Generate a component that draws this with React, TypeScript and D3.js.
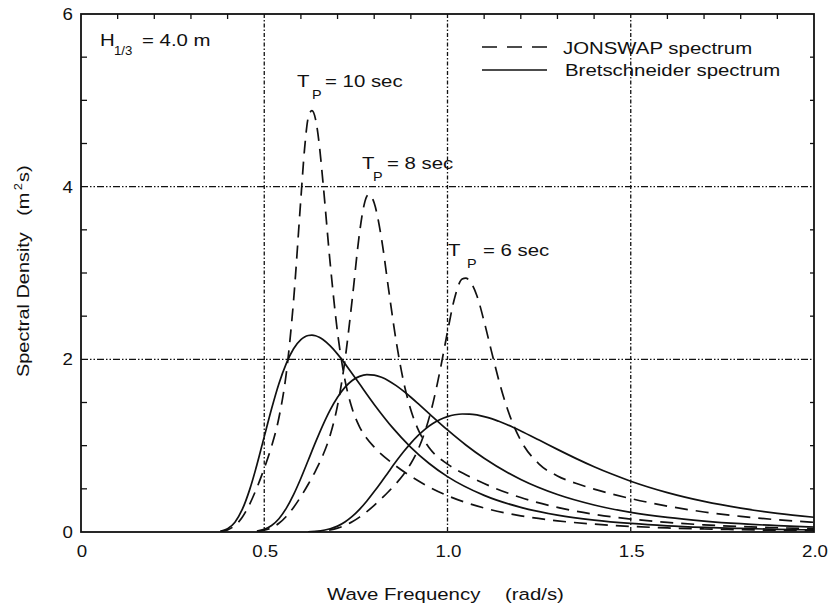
import React from "react";
import * as d3 from "d3";

// ---- data (H1/3 = 4.0 m) ----
const freqBret10 = [0.38, 0.40, 0.42, 0.44, 0.46, 0.48, 0.50, 0.52, 0.54, 0.56, 0.58, 0.60, 0.61, 0.62, 0.63, 0.64, 0.65, 0.66, 0.68, 0.70, 0.75, 0.80, 0.85, 0.90, 0.95, 1.0, 1.1, 1.2, 1.3, 1.4, 1.5, 1.6, 1.7, 1.8, 1.9, 2.0];
const bret10 = [0.009, 0.038, 0.114, 0.261, 0.488, 0.779, 1.105, 1.428, 1.718, 1.951, 2.123, 2.229, 2.260, 2.276, 2.280, 2.273, 2.255, 2.229, 2.155, 2.060, 1.774, 1.478, 1.209, 0.981, 0.793, 0.641, 0.424, 0.285, 0.196, 0.138, 0.099, 0.072, 0.054, 0.041, 0.031, 0.024];

const freqJon10 = [0.38, 0.40, 0.42, 0.44, 0.46, 0.48, 0.50, 0.52, 0.54, 0.56, 0.58, 0.60, 0.61, 0.62, 0.63, 0.64, 0.65, 0.66, 0.68, 0.70, 0.72, 0.74, 0.76, 0.78, 0.80, 0.85, 0.90, 0.95, 1.0, 1.1, 1.2, 1.3, 1.4, 1.5, 1.6, 1.7, 1.8, 1.9, 2.0];
const jon10 = [0.006, 0.025, 0.075, 0.171, 0.321, 0.514, 0.738, 0.994, 1.323, 1.833, 2.681, 3.866, 4.437, 4.800, 4.880, 4.780, 4.492, 4.062, 3.108, 2.310, 1.766, 1.428, 1.219, 1.083, 0.983, 0.795, 0.645, 0.521, 0.421, 0.278, 0.187, 0.129, 0.091, 0.065, 0.047, 0.035, 0.027, 0.020, 0.016];

const freqBret8 = [0.48, 0.50, 0.52, 0.54, 0.56, 0.58, 0.60, 0.62, 0.64, 0.66, 0.68, 0.70, 0.72, 0.74, 0.76, 0.78, 0.80, 0.82, 0.84, 0.86, 0.88, 0.90, 0.92, 0.95, 1.0, 1.05, 1.1, 1.2, 1.3, 1.4, 1.5, 1.6, 1.7, 1.8, 1.9, 2.0];
const bret8 = [0.010, 0.030, 0.075, 0.154, 0.274, 0.433, 0.623, 0.831, 1.041, 1.239, 1.415, 1.561, 1.675, 1.755, 1.803, 1.823, 1.818, 1.792, 1.750, 1.695, 1.631, 1.561, 1.486, 1.371, 1.182, 1.008, 0.854, 0.608, 0.434, 0.313, 0.228, 0.169, 0.127, 0.096, 0.074, 0.058];

const freqJon8 = [0.48, 0.50, 0.52, 0.54, 0.56, 0.58, 0.60, 0.62, 0.64, 0.66, 0.68, 0.70, 0.72, 0.74, 0.76, 0.77, 0.78, 0.785, 0.80, 0.82, 0.84, 0.86, 0.88, 0.90, 0.92, 0.95, 1.0, 1.05, 1.1, 1.2, 1.3, 1.4, 1.5, 1.6, 1.7, 1.8, 1.9, 2.0];
const jon8 = [0.006, 0.020, 0.049, 0.101, 0.180, 0.285, 0.411, 0.553, 0.709, 0.889, 1.124, 1.466, 1.982, 2.695, 3.465, 3.740, 3.890, 3.910, 3.810, 3.396, 2.789, 2.208, 1.745, 1.413, 1.186, 0.975, 0.786, 0.663, 0.561, 0.399, 0.285, 0.205, 0.150, 0.111, 0.083, 0.063, 0.049, 0.038];

const freqBret6 = [0.62, 0.65, 0.68, 0.70, 0.72, 0.74, 0.76, 0.78, 0.80, 0.82, 0.84, 0.86, 0.88, 0.90, 0.92, 0.94, 0.96, 0.98, 1.00, 1.02, 1.04, 1.06, 1.08, 1.10, 1.12, 1.14, 1.16, 1.18, 1.20, 1.25, 1.30, 1.35, 1.40, 1.45, 1.50, 1.60, 1.70, 1.80, 1.90, 2.0];
const bret6 = [0.003, 0.011, 0.037, 0.068, 0.116, 0.180, 0.262, 0.359, 0.468, 0.583, 0.702, 0.819, 0.929, 1.030, 1.119, 1.195, 1.256, 1.304, 1.337, 1.358, 1.367, 1.366, 1.356, 1.337, 1.313, 1.282, 1.248, 1.211, 1.171, 1.065, 0.957, 0.853, 0.756, 0.668, 0.588, 0.456, 0.354, 0.276, 0.216, 0.171];

const freqJon6 = [0.62, 0.65, 0.68, 0.70, 0.72, 0.74, 0.76, 0.78, 0.80, 0.82, 0.84, 0.86, 0.88, 0.90, 0.92, 0.94, 0.96, 0.98, 1.00, 1.02, 1.04, 1.05, 1.06, 1.08, 1.10, 1.12, 1.14, 1.16, 1.18, 1.20, 1.25, 1.30, 1.35, 1.40, 1.45, 1.50, 1.60, 1.70, 1.80, 1.90, 2.0];
const jon6 = [0.002, 0.008, 0.024, 0.045, 0.076, 0.118, 0.172, 0.236, 0.308, 0.387, 0.472, 0.563, 0.667, 0.793, 0.958, 1.182, 1.487, 1.877, 2.319, 2.720, 2.930, 2.940, 2.910, 2.740, 2.438, 2.092, 1.758, 1.470, 1.238, 1.060, 0.787, 0.649, 0.564, 0.497, 0.439, 0.387, 0.300, 0.232, 0.181, 0.142, 0.112];

const xTickValues = [0, 0.5, 1.0, 1.5, 2.0];
const xTickLabels = ["0", "0.5", "1.0", "1.5", "2.0"];
const yTickValues = [0, 2, 4, 6];
const yTickLabels = ["0", "2", "4", "6"];
const xGridValues = [0.5, 1.0, 1.5];
const yGridValues = [2, 4];
const legendLabels = ["JONSWAP spectrum", "Bretschneider spectrum"];

const W = 830;
const H = 607;
const FONT = "'Liberation Sans', Arial, Helvetica, sans-serif";
const INK = "#111";

const x = d3.scaleLinear().domain([0, 2]).range([81, 814]);
const y = d3.scaleLinear().domain([0, 6]).range([532, 14]);

const line = d3
  .line<[number, number]>()
  .x((d) => x(d[0]))
  .y((d) => y(d[1]))
  .curve(d3.curveMonotoneX);

const zip = (f: number[], v: number[]) => f.map((fx, i) => [fx, v[i]] as [number, number]);

function T({ x: tx, y: ty, size = 17, sx = 1.2, anchor = "start", children }: any) {
  return (
    <text
      transform={`translate(${tx},${ty}) scale(${sx},1)`}
      fontSize={size}
      textAnchor={anchor}
      fill={INK}
      fontFamily={FONT}
    >
      {children}
    </text>
  );
}

function TpLabel({ tx, ty, px, ex, text }: any) {
  return (
    <g>
      <T x={tx} y={ty}>T</T>
      <T x={px} y={ty + 12} size={12}>P</T>
      <T x={ex} y={ty}>{text}</T>
    </g>
  );
}

export default function App() {
  const solid = [zip(freqBret10, bret10), zip(freqBret8, bret8), zip(freqBret6, bret6)];
  const dashed = [zip(freqJon10, jon10), zip(freqJon8, jon8), zip(freqJon6, jon6)];
  const x0 = x(0), x1 = x(2), y0 = y(0), y1 = y(6);

  const topTicks = d3.range(1, 20).map((i) => i / 10).filter((v) => Math.abs((v * 2) % 1) > 1e-6);
  const sideTicks = d3.range(1, 12).map((i) => i / 2).filter((v) => v % 2 !== 0);

  return (
    <div style={{ position: "fixed", left: 0, top: 0 }}>
      <svg width={W} height={H} style={{ display: "block", background: "#fff" }}>
        <defs>
          <clipPath id="plot">
            <rect x={x0} y={y1} width={x1 - x0} height={y0 - y1} />
          </clipPath>
        </defs>

        {/* grid */}
        {xGridValues.map((v) => (
          <line key={"gx" + v} x1={x(v)} x2={x(v)} y1={y1} y2={y0} stroke={INK} strokeWidth={1.3} strokeDasharray="4,2,1.5,2" />
        ))}
        {yGridValues.map((v) => (
          <line key={"gy" + v} x1={x0} x2={x1} y1={y(v)} y2={y(v)} stroke={INK} strokeWidth={1.3} strokeDasharray="7,2,1.5,2,1.5,2" />
        ))}

        {/* ticks */}
        {topTicks.map((v) => (
          <line key={"tt" + v} x1={x(v)} x2={x(v)} y1={y1} y2={y1 + 5} stroke={INK} strokeWidth={1.3} />
        ))}
        {sideTicks.map((v) => (
          <g key={"st" + v}>
            <line x1={x0} x2={x0 + 6} y1={y(v)} y2={y(v)} stroke={INK} strokeWidth={1.3} />
            <line x1={x1} x2={x1 - 4} y1={y(v)} y2={y(v)} stroke={INK} strokeWidth={1.3} />
          </g>
        ))}

        {/* curves */}
        <g clipPath="url(#plot)" fill="none" stroke={INK} strokeWidth={1.7}>
          {solid.map((d, i) => (
            <path key={"s" + i} d={line(d) || ""} />
          ))}
          {dashed.map((d, i) => (
            <path key={"d" + i} d={line(d) || ""} strokeDasharray="13,8" />
          ))}
        </g>

        {/* frame */}
        <rect x={x0} y={y1} width={x1 - x0} height={y0 - y1} fill="none" stroke={INK} strokeWidth={1.8} />

        {/* tick labels */}
        {xTickValues.map((v, i) => (
          <T key={"xl" + v} x={x(v) + 1} y={557} sx={1.1} anchor="middle">{xTickLabels[i]}</T>
        ))}
        {yTickValues.map((v, i) => (
          <T key={"yl" + v} x={73} y={y(v) + 6} sx={1.1} anchor="end">{yTickLabels[i]}</T>
        ))}

        {/* axis titles */}
        <T x={327} y={600}>Wave Frequency</T>
        <T x={505} y={600}>(rad/s)</T>
        <text
          transform={`translate(29,377) rotate(-90) scale(1.17,1)`}
          fontSize={17}
          fill={INK}
          fontFamily={FONT}
        >
          Spectral Density
          <tspan dx={14}>(m</tspan>
          <tspan dx={2} dy={-7} fontSize={11}>2</tspan>
          <tspan dx={1} dy={7}>s)</tspan>
        </text>

        {/* annotations */}
        <T x={100} y={46}>H</T>
        <T x={114} y={55} size={12} sx={1.1}>1/3</T>
        <T x={142} y={46}>= 4.0 m</T>

        <TpLabel tx={297} ty={87} px={312} ex={325} text="= 10 sec" />
        <TpLabel tx={362} ty={169} px={373} ex={387} text="= 8 sec" />
        <TpLabel tx={448} ty={256} px={467} ex={483} text="= 6 sec" />

        {/* legend */}
        <line x1={482} x2={547} y1={47} y2={47} stroke={INK} strokeWidth={1.6} strokeDasharray="15,10" />
        <line x1={482} x2={547} y1={70} y2={70} stroke={INK} strokeWidth={1.6} />
        <T x={563} y={54}>{legendLabels[0]}</T>
        <T x={565} y={76}>{legendLabels[1]}</T>
      </svg>
    </div>
  );
}
